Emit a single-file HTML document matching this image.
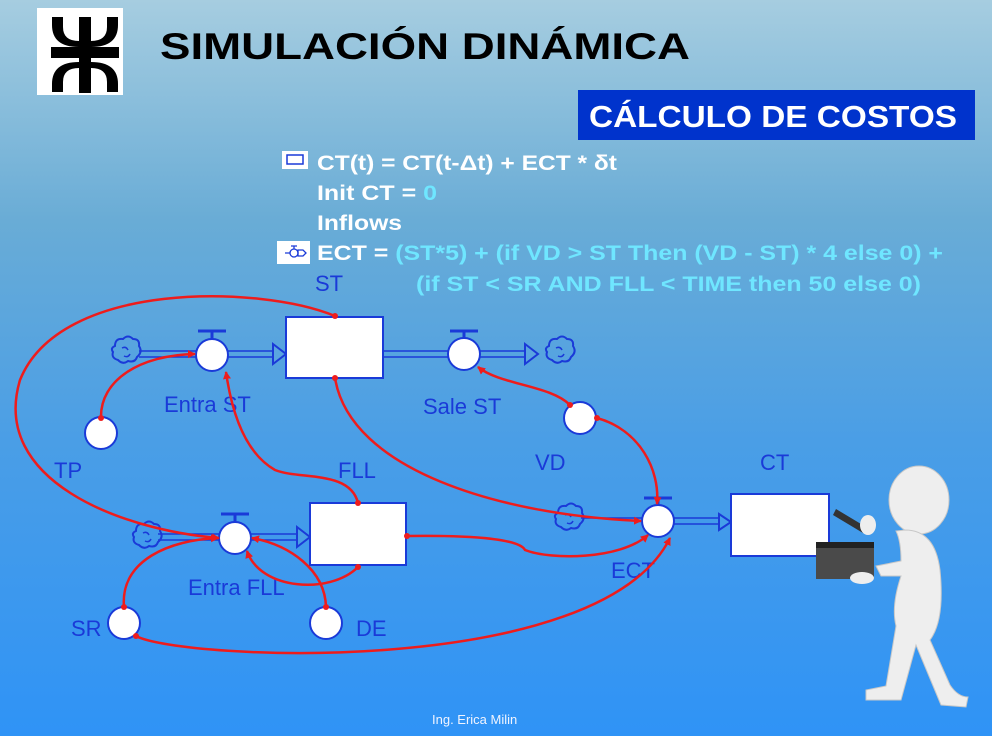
<!DOCTYPE html>
<html><head><meta charset="utf-8"><style>
html,body{margin:0;padding:0;width:992px;height:736px;overflow:hidden}
svg{display:block}
</style></head><body>
<svg width="992" height="736" viewBox="0 0 992 736" xmlns="http://www.w3.org/2000/svg" font-family="Liberation Sans, sans-serif">
<defs>
<linearGradient id="bg" x1="0" y1="0" x2="0" y2="1">
<stop offset="0" stop-color="#a6cde0"/>
<stop offset="0.3" stop-color="#69acd6"/>
<stop offset="0.6" stop-color="#4a9ee6"/>
<stop offset="1" stop-color="#2f93f6"/>
</linearGradient>
<marker id="ar" markerWidth="8" markerHeight="8" refX="7" refY="4" orient="auto" markerUnits="userSpaceOnUse"><path d="M0,0 L8,4 L0,8 z" fill="#ee1c1c"/></marker>
<marker id="dt" markerWidth="6" markerHeight="6" refX="3" refY="3" markerUnits="userSpaceOnUse"><circle cx="3" cy="3" r="3" fill="#ee1c1c"/></marker>
<g id="cloud"><path d="M-11,-6 q0,-8 8,-7 q5,-5 10,0 q7,0 6,7 q4,6 -2,11 q-2,6 -9,4 q-5,4 -10,-1 q-7,-2 -5,-8 q-3,-4 2,-6z" fill="none" stroke="#1a3ad8" stroke-width="2"/><path d="M-4,-4 q4,-2 6,2 M-2,4 q4,2 6,-2" fill="none" stroke="#1a3ad8" stroke-width="1.5"/></g>
</defs>
<rect width="992" height="736" fill="url(#bg)"/>
<rect x="37" y="8" width="86" height="87" fill="#fff"/>
<g fill="#000">
<rect x="51" y="47" width="68" height="11"/>
<rect x="79" y="17" width="12" height="76"/>
<path d="M52,17 h11 v10 q0,14 16,14 v6 q-27,0 -27,-22z"/>
<path d="M118,17 h-11 v10 q0,14 -16,14 v6 q27,0 27,-22z"/>
<path d="M52,92 h11 v-10 q0,-14 16,-14 v-6 q-27,0 -27,22z"/>
<path d="M118,92 h-11 v-10 q0,-14 -16,-14 v-6 q27,0 27,22z"/>
</g>
<text x="160" y="59" font-size="37" font-weight="bold" fill="#000" textLength="530" lengthAdjust="spacingAndGlyphs">SIMULACIÓN DINÁMICA</text>
<rect x="578" y="90" width="397" height="50" fill="#0033cc"/>
<text x="589" y="127" font-size="31" font-weight="bold" fill="#fff" textLength="368" lengthAdjust="spacingAndGlyphs">CÁLCULO DE COSTOS</text>
<rect x="282" y="151" width="26" height="18" fill="#fff"/>
<rect x="287" y="155" width="16" height="9" fill="none" stroke="#1a3ad8" stroke-width="1.5"/>
<rect x="277" y="241" width="33" height="23" fill="#fff"/>
<g stroke="#1a3ad8" stroke-width="1.3" fill="none"><circle cx="294" cy="253" r="4"/><path d="M285,253 h5 M291,246 h6 M294,246 v3 M298,250 h5 l3,3 l-3,3 h-5z"/></g>
<g font-size="21" font-weight="bold" fill="#fff">
<text x="317" y="170" textLength="300" lengthAdjust="spacingAndGlyphs">CT(t) = CT(t-Δt) + ECT * δt</text>
<text x="317" y="200" textLength="120" lengthAdjust="spacingAndGlyphs">Init CT = <tspan fill="#6fe6ff">0</tspan></text>
<text x="317" y="230" textLength="85" lengthAdjust="spacingAndGlyphs">Inflows</text>
<text x="317" y="260" textLength="626" lengthAdjust="spacingAndGlyphs">ECT = <tspan fill="#6fe6ff">(ST*5) + (if VD &gt; ST Then (VD - ST) * 4 else 0) +</tspan></text>
<text x="416" y="291" fill="#6fe6ff" textLength="505" lengthAdjust="spacingAndGlyphs">(if ST &lt; SR AND FLL &lt; TIME then 50 else 0)</text>
</g>
<g stroke="#1a3ad8" stroke-width="1.5" fill="none">
<path d="M139,351 h57 M139,357 h57 M228,351 h45 M228,357 h45"/>
<path d="M383,351 h65 M383,357 h65 M480,351 h45 M480,357 h45"/>
<path d="M158,534 h61 M158,540 h61 M251,534 h46 M251,540 h46"/>
<path d="M581,518 h61 M674,518 h45 M674,524 h45"/>
</g>
<g fill="none" stroke="#1a3ad8" stroke-width="2">
<path d="M273,344 l13,10 l-13,10z" fill="#5aa5e0"/>
<path d="M525,344 l13,10 l-13,10z" fill="#5aa5e0"/>
<path d="M297,527 l13,10 l-13,10z" fill="#4a9ee6"/>
<path d="M719,514 l12,8 l-12,8z" fill="#45a0ea"/>
</g>
<use href="#cloud" x="126" y="352"/>
<use href="#cloud" x="560" y="352"/>
<use href="#cloud" x="147" y="537"/>
<use href="#cloud" x="569" y="519"/>
<g fill="#fff" stroke="#1a3ad8" stroke-width="2">
<rect x="286" y="317" width="97" height="61"/>
<rect x="310" y="503" width="96" height="62"/>
<rect x="731" y="494" width="98" height="62"/>
</g>
<g fill="#fff" stroke="#1a3ad8" stroke-width="2">
<circle cx="212" cy="355" r="16"/><circle cx="464" cy="354" r="16"/><circle cx="235" cy="538" r="16"/><circle cx="658" cy="521" r="16"/>
<circle cx="101" cy="433" r="16"/><circle cx="580" cy="418" r="16"/><circle cx="124" cy="623" r="16"/><circle cx="326" cy="623" r="16"/>
</g>
<g stroke="#1a3ad8" stroke-width="3"><path d="M198,331 h28 M212,331 v8 M450,331 h28 M464,331 v8 M221,514 h28 M235,514 v8 M644,498 h28 M658,498 v7"/></g>
<g font-size="22" fill="#1a3ad8">
<text x="315" y="291">ST</text><text x="164" y="412">Entra ST</text><text x="423" y="414">Sale ST</text>
<text x="54" y="478">TP</text><text x="535" y="470">VD</text><text x="338" y="478">FLL</text><text x="760" y="470">CT</text>
<text x="188" y="595">Entra FLL</text><text x="71" y="636">SR</text><text x="356" y="636">DE</text><text x="611" y="578">ECT</text>
</g>
<g fill="none" stroke="#ee1c1c" stroke-width="2.5" marker-start="url(#dt)" marker-end="url(#ar)">
<path d="M335,316 C260,285 60,280 20,380 C-10,480 120,530 219,538"/>
<path d="M101,418 C100,380 140,355 195,354"/>
<path d="M358,503 C350,470 300,480 275,470 C240,450 230,400 226,372"/>
<path d="M335,378 C350,470 500,515 641,521"/>
<path d="M570,405 C550,385 500,385 478,367"/>
<path d="M597,418 C640,430 660,470 657,504"/>
<path d="M407,536 C480,535 520,540 525,550 C550,560 620,560 648,535"/>
<path d="M358,567 C330,595 260,590 247,551"/>
<path d="M326,607 C325,570 290,545 252,538"/>
<path d="M124,607 C120,560 170,540 218,538"/>
<path d="M136,636 C180,660 600,680 670,538"/>
</g>
<g fill="#eeeeee" stroke="#c8c8c8" stroke-width="1">
<ellipse cx="919" cy="500" rx="30" ry="34"/>
<path d="M905,530 q30,0 35,40 q5,50 -10,70 l20,45 q8,12 18,12 l-2,10 l-25,-2 l-25,-60 l-15,55 h-35 l0,-10 l20,-4 l10,-60 q-5,-20 5,-50 l-20,0 l-5,-10 l25,-5 q0,-20 -5,-30z"/>
</g>
<g>
<rect x="816" y="544" width="58" height="35" fill="#4a4a4a"/>
<rect x="816" y="542" width="58" height="6" fill="#222"/>
<path d="M836,509 l30,18 l-3,6 l-30,-18z" fill="#333"/>
<ellipse cx="862" cy="578" rx="12" ry="6" fill="#eee"/>
<ellipse cx="868" cy="525" rx="8" ry="10" fill="#eee"/>
</g>
<text x="432" y="724" font-size="13" fill="#f0f4ff">Ing. Erica Milin</text>
</svg>
</body></html>
